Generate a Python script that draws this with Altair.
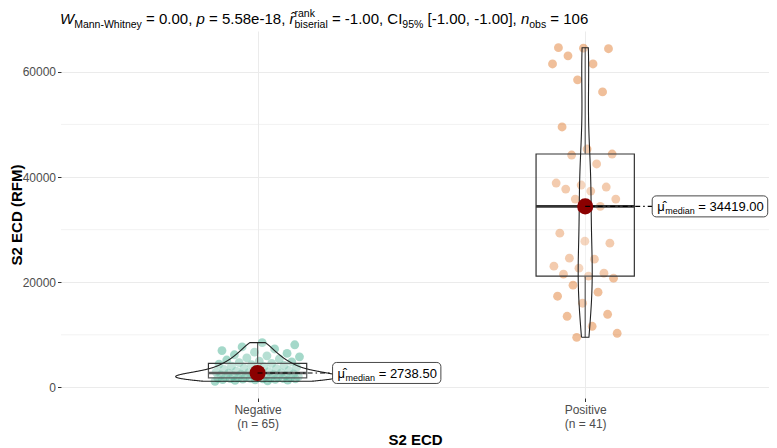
import altair as alt
import numpy as np
import pandas as pd

# ------------------------------------------------------------------ data
groups = ["Negative", "Positive"]
group_n_text = ["(n = 65)", "(n = 41)"]

negative_values = [1150, 1250, 1320, 1380, 1430, 1480, 1520, 1560, 1600, 1630, 1660, 1690,
                   1720, 1740, 1760, 1790, 1810,
                   1850, 1900, 1950, 2000, 2050, 2100, 2160, 2220, 2280, 2350, 2420, 2490,
                   2560, 2630, 2700,
                   2738.5,
                   2800, 2900, 3000, 3100, 3200, 3300, 3420, 3550, 3680, 3800, 3920, 4050,
                   4180, 4300, 4420,
                   4550,
                   4700, 4850, 5000, 5200, 5400, 5600, 5800, 6000, 6200, 6450, 6700, 7000,
                   7300, 7700, 8100, 8500]

positive_values = [9520, 10290, 11620, 13520, 13900, 16000, 17330, 18100, 19430, 20760,
                   21140, 21520, 21710, 22670, 23050, 24380, 24570, 27430, 27810, 29330,
                   34419,
                   35810, 35810, 37330, 37710, 38100, 38480, 38860, 42480, 44190, 44380,
                   45330, 49520, 56190, 58480, 61500, 61500, 63050, 64400, 64500, 64600]

y_major_ticks = [0, 20000, 40000, 60000]
y_minor_ticks = [10000, 30000, 50000]

stat_W = "0.00"
stat_p = "5.58e-18"
stat_r = "-1.00"
stat_ci = "[-1.00, -1.00]"
stat_n = "106"

x_title = "S2 ECD"
y_title = "S2 ECD (RFM)"

# ------------------------------------------------------------------ style / layout
FONT = "Liberation Sans"
HAT = "\u02c6"
point_colors = ["#1B9E77", "#D95F02"]
jitter_width = [0.26, 0.2]
W_PX, H_PX = 708, 367
X_DOM = [0.4, 2.561]
all_vals = negative_values + positive_values
lo, hi = min(all_vals), max(all_vals)
ypad = 0.05 * (hi - lo)
Y_DOM = [lo - ypad, hi + ypad]
ppu_x = W_PX / (X_DOM[1] - X_DOM[0])
ppu_y = H_PX / (Y_DOM[1] - Y_DOM[0])

CW = {' ': 278, '%': 889, '(': 333, ')': 333, ',': 278, '-': 333, '.': 278, '=': 584,
      '[': 278, ']': 278, 'C': 722, 'I': 278, 'M': 833, 'W': 944, 'a': 556, 'b': 556,
      'd': 556, 'e': 556, 'h': 556, 'i': 222, 'k': 500, 'l': 222, 'm': 833, 'n': 556,
      'o': 556, 'p': 556, 'r': 333, 's': 500, 't': 278, 'y': 500, '\u03bc': 576,
      '\u0302': 0}


def tw(s, size):
    return sum(CW.get(c, 556) for c in s) / 1000.0 * size


xs = alt.Scale(domain=X_DOM, nice=False, zero=False)
ys = alt.Scale(domain=Y_DOM, nice=False, zero=False)

label_expr = " : ".join(
    f"datum.value == {i + 1} ? ['{g}', '{n}']" for i, (g, n) in enumerate(zip(groups, group_n_text))
) + " : ''"

x_axis = alt.Axis(values=[1, 2], labelExpr=label_expr, grid=True, gridColor="#EBEBEB",
                  gridWidth=1, domain=False, ticks=True, tickColor="#333333", tickSize=3.5,
                  labelColor="#4D4D4D", labelFontSize=12, labelFont=FONT, labelPadding=3,
                  labelLineHeight=13.5, labelAngle=0, titleFont=FONT, titleFontSize=15,
                  titleFontWeight="bold", titleColor="black", titlePadding=3)
y_axis = alt.Axis(values=y_major_ticks, format="d", grid=True, gridColor="#EBEBEB",
                  gridWidth=1, domain=False, ticks=True, tickColor="#333333", tickSize=3.5,
                  labelColor="#4D4D4D", labelFontSize=12, labelFont=FONT, labelPadding=2,
                  titleFont=FONT, titleFontSize=15, titleFontWeight="bold",
                  titleColor="black", titleX=-45, titleBaseline="middle")


def X(f):
    return alt.X(f, type="quantitative", scale=xs, axis=x_axis, title=x_title)


def Y(f):
    return alt.Y(f, type="quantitative", scale=ys, axis=y_axis, title=y_title)


# ------------------------------------------------------------------ derived tables
group_vals = [negative_values, positive_values]

pts = []
for gi, (g, vals) in enumerate(zip(groups, group_vals)):
    for i, v in enumerate(vals):
        j = (((i * 0.6180339887) + 0.37 * gi) % 1.0 - 0.5) * jitter_width[gi]
        pts.append({"group": g, "value": v, "xj": gi + 1 + j})
pts_df = pd.DataFrame(pts)

stats = []
for gi, (g, vals) in enumerate(zip(groups, group_vals)):
    v = np.array(vals, float)
    q1, med, q3 = np.percentile(v, [25, 50, 75])
    iqr = q3 - q1
    wlo = v[v >= q1 - 1.5 * iqr].min()
    whi = v[v <= q3 + 1.5 * iqr].max()
    gx = gi + 1
    stats.append({"group": g, "gx": gx, "bl": gx - 0.15, "br": gx + 0.15,
                  "q1": q1, "med": med, "q3": q3, "wlo": wlo, "whi": whi})
stats_df = pd.DataFrame(stats)

# violins (gaussian KDE, nrd0 bandwidth, trimmed, area-scaled to width 0.5)
dens = []
for gi, vals in enumerate(group_vals):
    v = np.array(vals, float)
    n = len(v)
    sd = v.std(ddof=1)
    iqr = np.subtract(*np.percentile(v, [75, 25]))
    bw = 0.9 * min(sd, iqr / 1.34) * n ** -0.2
    grid = np.linspace(v.min(), v.max(), 512)
    d = np.exp(-0.5 * ((grid[:, None] - v[None, :]) / bw) ** 2).sum(1) / (n * bw * np.sqrt(2 * np.pi))
    dens.append((grid, d))
dmax = max(d.max() for _, d in dens)
vio_area, vio_line = [], []
for gi, (grid, d) in enumerate(dens):
    gx = gi + 1
    hw = d / dmax * 0.25
    for yv, h in zip(grid, hw):
        vio_area.append({"group": groups[gi], "y": yv, "xl": gx - h, "xr": gx + h})
    k = 0
    for yv, h in zip(grid, hw):
        vio_line.append({"group": groups[gi], "y": yv, "x": gx - h, "o": k}); k += 1
    for yv, h in zip(grid[::-1], hw[::-1]):
        vio_line.append({"group": groups[gi], "y": yv, "x": gx + h, "o": k}); k += 1
    vio_line.append({"group": groups[gi], "y": grid[0], "x": gx - hw[0], "o": k})
vio_area_df = pd.DataFrame(vio_area)
vio_line_df = pd.DataFrame(vio_line)

# median labels
MAIN, SUB = 13.0, 9.0
label_offset_px = [75, 67]
lab = []
for s, off in zip(stats, label_offset_px):
    val_txt = "= " + f"{s['med']:.2f}"
    text_w = tw("\u03bc", MAIN) + 0.5 + tw("median", SUB) + tw(" ", MAIN) + tw(val_txt, MAIN)
    xl = s["gx"] + off / ppu_x
    xr = xl + (5 + text_w + 4) / ppu_x
    lab.append({"gx": s["gx"], "med": s["med"], "xl": xl, "xr": xr,
                "yl": s["med"] - 10.5 / ppu_y, "yh": s["med"] + 10.5 / ppu_y,
                "mu": "\u03bc\u0302", "sub": "median", "val": val_txt})
lab_df = pd.DataFrame(lab)
dx_sub = 5 + tw("\u03bc", MAIN) + 0.5
dx_val = dx_sub + tw("median", SUB) + tw(" ", MAIN)

# ------------------------------------------------------------------ layers
minor = alt.Chart(pd.DataFrame({"v": y_minor_ticks})).mark_rule(
    color="#EBEBEB", strokeWidth=0.6).encode(y=Y("v"))

points = alt.Chart(pts_df).mark_circle(size=78, opacity=0.4, stroke=None).encode(
    x=X("xj"), y=Y("value"),
    color=alt.Color("group:N", scale=alt.Scale(domain=groups, range=point_colors), legend=None))

box = alt.Chart(stats_df).mark_rect(fill="white", fillOpacity=0.2, stroke="#333333",
                                    strokeWidth=1.2).encode(
    x=X("bl"), x2=alt.X2("br"), y=Y("q1"), y2=alt.Y2("q3"))
wh_hi = alt.Chart(stats_df).mark_rule(color="#333333", strokeWidth=1.2).encode(
    x=X("gx"), y=Y("q3"), y2=alt.Y2("whi"))
wh_lo = alt.Chart(stats_df).mark_rule(color="#333333", strokeWidth=1.2).encode(
    x=X("gx"), y=Y("wlo"), y2=alt.Y2("q1"))
med_line = alt.Chart(stats_df).mark_rule(color="#333333", strokeWidth=2.6).encode(
    x=X("bl"), x2=alt.X2("br"), y=Y("med"))

vio_fill = alt.Chart(vio_area_df).mark_area(orient="horizontal", color="white",
                                            opacity=0.2).encode(
    y=Y("y"), x=X("xl"), x2=alt.X2("xr"), detail="group:N")
vio_edge = alt.Chart(vio_line_df).mark_line(color="#222222", strokeWidth=1.1).encode(
    x=X("x"), y=Y("y"), order="o:Q", detail="group:N")

dot = alt.Chart(stats_df).mark_circle(size=260, color="#8B0000", opacity=1).encode(
    x=X("gx"), y=Y("med"))

connector = alt.Chart(lab_df).mark_rule(color="black", strokeWidth=1.1,
                                        strokeDash=[5, 3, 1.5, 3]).encode(
    x=X("gx"), x2=alt.X2("xl"), y=Y("med"))
lab_box = alt.Chart(lab_df).mark_rect(fill="white", stroke="#333333", strokeWidth=0.9,
                                      cornerRadius=4).encode(
    x=X("xl"), x2=alt.X2("xr"), y=Y("yl"), y2=alt.Y2("yh"))
lab_mu = alt.Chart(lab_df).mark_text(align="left", baseline="alphabetic", font=FONT,
                                     fontSize=MAIN, dx=5, dy=5, color="black").encode(
    x=X("xl"), y=Y("med"), text="mu:N")
lab_sub = alt.Chart(lab_df).mark_text(align="left", baseline="alphabetic", font=FONT,
                                      fontSize=SUB, dx=dx_sub, dy=8, color="black").encode(
    x=X("xl"), y=Y("med"), text="sub:N")
lab_val = alt.Chart(lab_df).mark_text(align="left", baseline="alphabetic", font=FONT,
                                      fontSize=MAIN, dx=dx_val, dy=5, color="black").encode(
    x=X("xl"), y=Y("med"), text="val:N")

# title (plotmath-like subtitle built from pieces)
T_MAIN, T_SUB = 15.0, 10.5
segments = [("W", "it"), ("Mann-Whitney", "sub"), (" = " + stat_W + ", ", "rm"),
            ("p", "it"), (" = " + stat_p + ", ", "rm"), ("r", "ithat"),
            ("rank|biserial", "supsub"), (" = " + stat_r + ", CI", "rm"), ("95%", "sub"),
            (" " + stat_ci + ", ", "rm"), ("n", "it"), ("obs", "sub"),
            (" = " + stat_n, "rm")]
title_layers = []
cx, base = -1.0, -7.0


def tlayer(text, px, py, size, italic, align="left"):
    return alt.Chart(pd.DataFrame({"t": [text]})).mark_text(
        align=align, baseline="alphabetic", font=FONT, fontSize=size,
        fontStyle="italic" if italic else "normal", color="black").encode(
        x=alt.value(px), y=alt.value(py), text="t:N")


for text, style in segments:
    if style == "supsub":
        sup, sb = text.split("|")
        title_layers.append(tlayer(sup, cx, base - 7, T_SUB, False))
        title_layers.append(tlayer(sb, cx, base + 4, T_SUB, False))
        cx += max(tw(sup, T_SUB), tw(sb, T_SUB))
        continue
    size = T_SUB if style == "sub" else T_MAIN
    lead = len(text) - len(text.lstrip(" "))
    py = base + 4 if style == "sub" else base
    title_layers.append(tlayer(text.strip(), cx + tw(" " * lead, size), py, size,
                               style in ("it", "ithat")))
    if style == "ithat":
        title_layers.append(tlayer(HAT, cx + tw(text, size) / 2 + 1.5, py - 1, size, False,
                                   align="center"))
    cx += tw(text, size)

chart = alt.layer(minor, points, box, wh_hi, wh_lo, med_line, vio_fill, vio_edge, dot,
                  connector, lab_box, lab_mu, lab_sub, lab_val,
                  *title_layers).properties(
    width=W_PX, height=H_PX, autosize="none",
    padding={"left": 53, "top": 23, "right": 0, "bottom": 50},
    background="white").configure_view(stroke=None)

chart.save("out.html", embed_options={"renderer": "svg", "actions": False})
